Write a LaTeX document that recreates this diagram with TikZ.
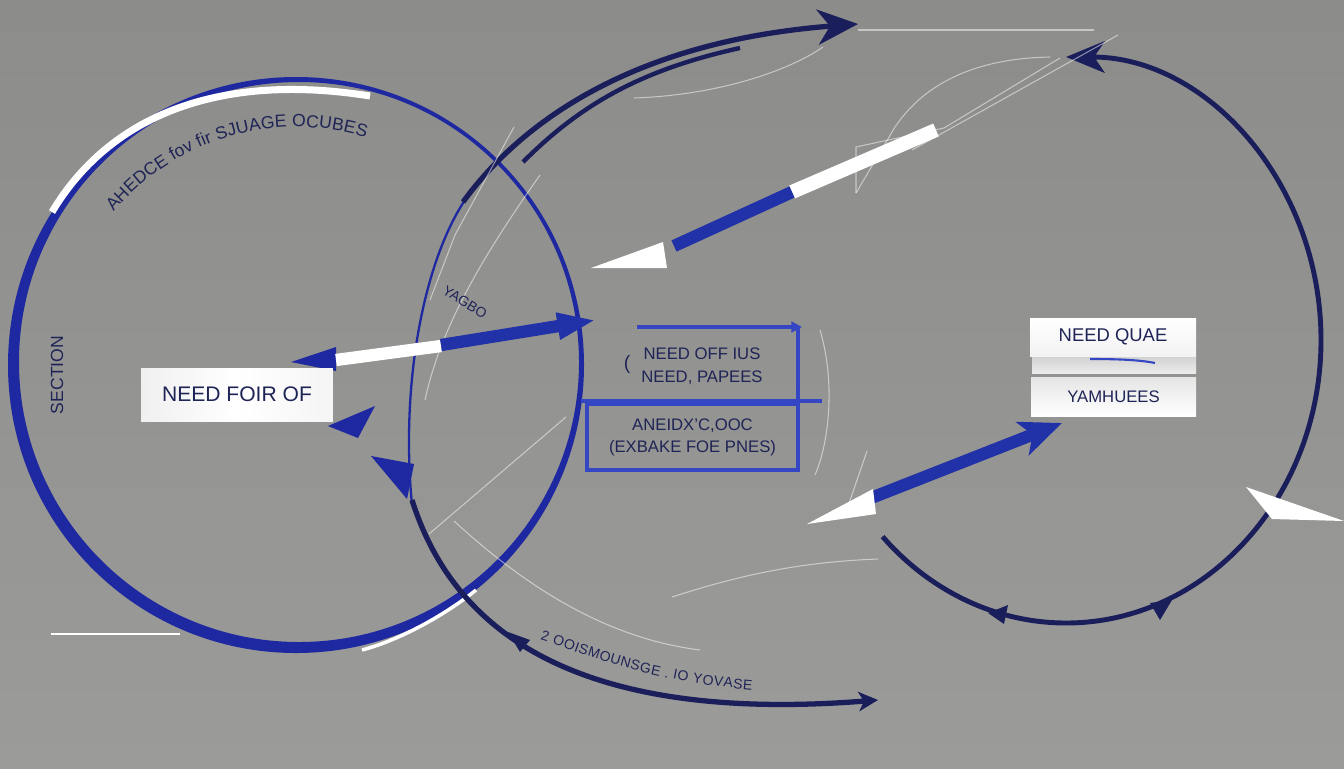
\documentclass[tikz,border=0pt]{standalone}
\usepackage{fontspec}
\setmainfont{Liberation Sans}
\usepackage{tikz}
\usetikzlibrary{arrows.meta,positioning,calc,decorations.text}
\definecolor{bgtop}{HTML}{8C8C8A}
\definecolor{bgbot}{HTML}{9B9B99}
\definecolor{ringblue}{HTML}{1E28A0}
\definecolor{darknavy}{HTML}{1A1E5A}
\definecolor{barblue}{HTML}{2131A8}
\definecolor{frameblue}{HTML}{3446C4}
\definecolor{inknavy}{HTML}{1F2456}

\begin{document}
\begin{tikzpicture}[
    x=0.02cm, y=-0.02cm,
    card/.style={rectangle, minimum width=#1, inner sep=0pt,
                 text=inknavy, font=\fontsize{12pt}{14pt}\selectfont},
    card/.default=3.84cm,
    frame/.style={rectangle, draw=frameblue, line width=2pt, align=center,
                  text=inknavy, font=\fontsize{9.5pt}{12.5pt}\selectfont},
    faint/.style={white, opacity=0.5, line width=0.6pt},
    band/.style={line width=7pt},
    navyarr/.style={darknavy, line width=3pt}
]
% background
\fill[top color=bgtop, bottom color=bgbot] (0,0) rectangle (1344,768);
\useasboundingbox (0,0) rectangle (1344,768);

% left ring
\coordinate (lc) at (296,365);
\fill[ringblue, even odd rule] (lc) circle[radius=288] (299,362) circle[radius=280];
\draw[white, line width=4pt] (52,212) .. controls (110,115) and (220,72) .. (370,96);
\draw[white, line width=2pt] (362,650) .. controls (400,640) and (445,615) .. (476,590);
\draw[white, line width=1.2pt] (51,634) -- (180,634);

% middle arc and navy arrows
\draw[ringblue, line width=1.3pt] (465,200) .. controls (425,260) and (400,380) .. (412,505);
\draw[navyarr, -{Stealth[length=23pt,width=20pt,inset=7pt]}]
    (463,202) .. controls (530,110) and (650,40) .. (858,24);
\draw[darknavy, line width=2.5pt] (523,162) .. controls (580,105) and (640,70) .. (740,48);
\draw[navyarr, -{Stealth[length=11pt,width=11pt,inset=3pt]}]
    (412,500) .. controls (450,620) and (560,725) .. (878,700);
\fill[darknavy] (508,632) -- (530,640) -- (520,652) -- cycle;

% right ring
\coordinate (rc) at (1066,340);
\draw[darknavy, line width=2.8pt, {Stealth[length=22pt,width=18pt,inset=6pt]}-]
    (1066,57) arc[start angle=-90, end angle=136, x radius=255, y radius=283];
\fill[darknavy] (988,613) -- (1008,605) -- (1004,624) -- cycle;
\fill[darknavy] (1172,600) -- (1150,603) -- (1160,620) -- cycle;
\fill[white] (1246,487) -- (1344,521) -- (1272,519) -- cycle;

% faint strokes
\draw[faint] (858,30) -- (1094,30);
\draw[faint] (634,98) .. controls (720,95) and (790,70) .. (823,47);
\draw[faint] (856,193) -- (856,147) -- (944,128);
\draw[faint] (856,193) -- (895,127) .. controls (930,75) and (990,58) .. (1050,57);
\draw[faint] (912,150) -- (1118,35);
\draw[faint] (944,128) -- (1060,58);
\draw[faint] (672,597) .. controls (740,575) and (800,562) .. (878,559);
\draw[faint] (429,534) -- (566,417);
\draw[faint] (454,521) .. controls (540,600) and (620,640) .. (700,650);
\draw[faint] (514,127) -- (455,235) -- (430,300);
\draw[faint] (540,175) .. controls (480,260) and (440,330) .. (425,400);
\draw[faint] (820,330) .. controls (835,380) and (830,440) .. (815,475);
\draw[faint] (867,451) -- (845,515);

% big upper arrow
\draw[white, line width=8pt] (936,130) -- (792,192);
\draw[barblue, band] (792,192) -- (674,246);
\fill[white] (591,268) -- (663,242) -- (667,268) -- cycle;

% left double arrow
\fill[ringblue] (291,362) -- (336,347) -- (336,371) -- cycle;
\draw[white, band] (336,360) -- (441,346);
\draw[barblue, band, -{Triangle[length=22pt,width=14pt]}] (441,345) -- (596,320);

% right arrow
\draw[barblue, band, -{Stealth[length=24pt,width=20pt,inset=6pt]}] (871,498) -- (1062,423);
\fill[white] (807,524) -- (873,489) -- (876,514) -- cycle;

% small blue heads
\fill[ringblue] (328,426) -- (375,406) -- (358,438) -- cycle;
\fill[ringblue] (371,456) -- (414,464) -- (407,499) -- cycle;

% boxes
\node[card, minimum height=1.06cm, left color=white!88!gray, right color=white!92!gray,
      middle color=white] (needbox) at (237,394.5) {NEED FOIR OF};

\node[inner sep=0pt, align=center, text=inknavy, font=\fontsize{9.5pt}{13pt}\selectfont]
    (topbox) at (702,366) {NEED OFF IUS\\NEED, PAPEES};
\node[text=inknavy, font=\fontsize{11pt}{12pt}\selectfont] (paren) at (627,364) {(};
\draw[frameblue, line width=2pt, -{Triangle[length=6pt,width=6pt]}] (637,327) -- (802,327);
\draw[frameblue, line width=2pt] (798,327) -- (798,400);
\draw[frameblue, line width=2pt] (581,401) -- (822,401);
\node[frame, minimum width=4.22cm, minimum height=1.32cm] (lowbox) at (692.5,437)
    {ANEIDX'C,OOC\\(EXBAKE FOE PNES)};

\node[card=3.32cm, minimum height=0.76cm, top color=white, bottom color=white!90!gray,
      font=\fontsize{10.5pt}{12pt}\selectfont] (quaebox) at (1113,337) {NEED QUAE};
\fill[top color=white!65!gray, bottom color=white!85!gray] (1032,357) rectangle (1196,373);
\draw[frameblue, line width=1.2pt] (1090,359) .. controls (1120,359) and (1140,360) .. (1155,363);
\node[card=3.3cm, minimum height=0.78cm, top color=white!80!gray, bottom color=white,
      font=\fontsize{9.5pt}{11pt}\selectfont] (yambox) at (1113.5,396.5) {YAMHUEES};

% loose labels
\node[rotate=90, text=inknavy, font=\fontsize{10pt}{12pt}\selectfont] (sidetag) at (57,375) {SECTION};
\node[rotate=-32, text=inknavy, font=\fontsize{8pt}{9pt}\selectfont] (tilttag) at (465,302) {YAGBO};
\path[decorate, decoration={text along path, text align=fit to path,
      text={|\fontsize{10pt}{12pt}\selectfont\color{inknavy}|AHEDCE fov fir SJUAGE OCUBES}}]
    (113.7,212) arc[start angle=220, end angle=287, radius=238];
\path[decorate, decoration={text along path, text align=fit to path,
      text={|\fontsize{8pt}{10pt}\selectfont\color{inknavy}|2 OOISMOUNSGE . IO YOVASE}}]
    (540,640) .. controls (590,655) and (640,680) .. (752,690);
\end{tikzpicture}
\end{document}
